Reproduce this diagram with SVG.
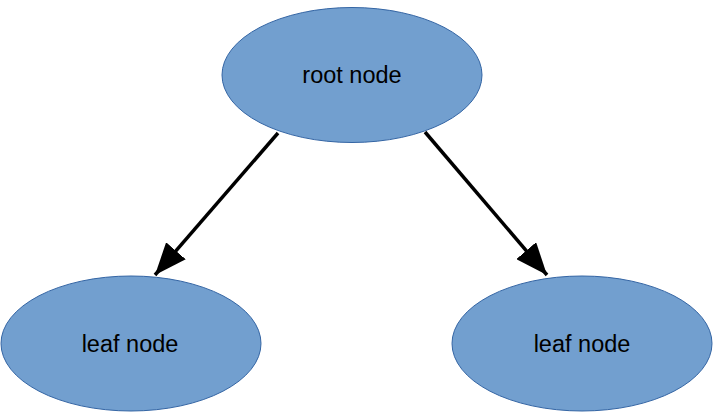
<svg xmlns="http://www.w3.org/2000/svg" width="722" height="418" viewBox="0 0 722 418">
<style>
.node{fill:#729fcf;stroke:#3465a4;stroke-width:1}
.lbl{font-family:"Liberation Sans",Arial,sans-serif;font-size:23.5px;fill:#000;text-anchor:middle}
.edge{stroke:#000;stroke-width:3.5;fill:none}
</style>
<defs>
<marker id="ah" markerUnits="userSpaceOnUse" markerWidth="34" markerHeight="26" refX="32" refY="13" orient="auto" viewBox="0 0 34 26">
<path d="M0,0 L32,13 L0,26 Z" fill="#000"/>
</marker>
</defs>
<rect width="722" height="418" fill="#fff"/>
<g id="edges">
<line class="edge" x1="278" y1="133" x2="155" y2="275" marker-end="url(#ah)"/>
<line class="edge" x1="425" y1="132" x2="547" y2="275" marker-end="url(#ah)"/>
</g>
<g id="root">
<ellipse class="node" cx="352" cy="75" rx="130" ry="67.5"/>
<text class="lbl" x="352" y="83">root node</text>
</g>
<g id="leaf1">
<ellipse class="node" cx="131" cy="343.5" rx="130" ry="67.5"/>
<text class="lbl" x="130" y="352">leaf node</text>
</g>
<g id="leaf2">
<ellipse class="node" cx="582" cy="343.5" rx="130" ry="67.5"/>
<text class="lbl" x="582" y="352">leaf node</text>
</g>
</svg>
